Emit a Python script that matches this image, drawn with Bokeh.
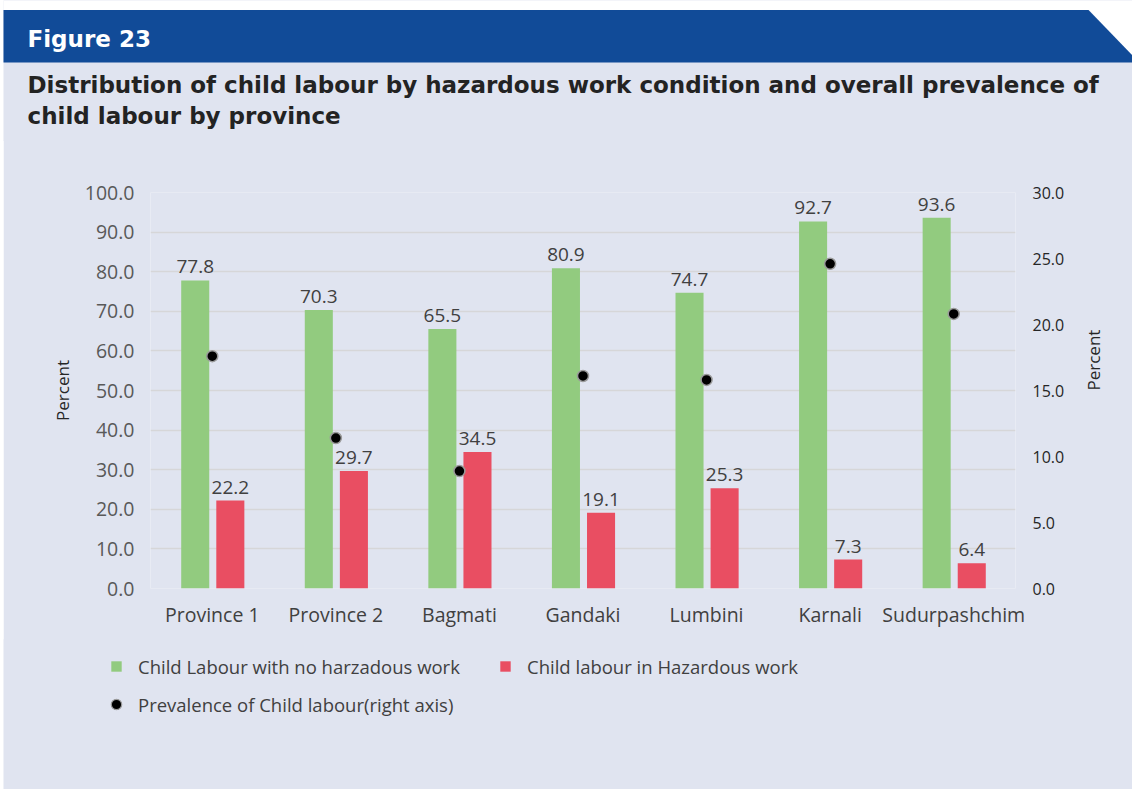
import math
from bokeh.plotting import figure
from bokeh.layouts import column
from bokeh.models import (ColumnDataSource, FactorRange, Range1d, LinearAxis, FixedTicker,
                          PrintfTickFormatter, LabelSet, Legend, LegendItem)
from bokeh.transform import dodge
from bokeh.core.properties import value
from bokeh.embed import file_html
from bokeh.resources import INLINE

# ---- data ----
categories = ["Province 1", "Province 2", "Bagmati", "Gandaki", "Lumbini", "Karnali", "Sudurpashchim"]
no_hazard = [77.8, 70.3, 65.5, 80.9, 74.7, 92.7, 93.6]
hazard = [22.2, 29.7, 34.5, 19.1, 25.3, 7.3, 6.4]
prevalence = [17.6, 11.4, 8.9, 16.1, 15.8, 24.6, 20.8]
left_ticks = [0, 10, 20, 30, 40, 50, 60, 70, 80, 90, 100]
right_ticks = [0, 5, 10, 15, 20, 25, 30]
series_names = ["Child Labour with no harzadous work", "Child labour in Hazardous work",
                "Prevalence of Child labour(right axis)"]
fig_label = "Figure 23"
title_lines = ["Distribution of child labour by hazardous work condition and overall prevalence of",
               "child labour by province"]

GREEN = "#92CB7F"
RED = "#E94E62"
BG = "#E0E4F0"
BLUE = "#114B98"
FONT = "Open Sans"
TFONT = "DejaVu Sans"
X0 = 3            # white strip on the left of the panel
W = 1132 - X0


def no_align(fig):
    try:
        fig.frame_align = False
    except Exception:
        pass


def zero_border(fig):
    fig.min_border_left = fig.min_border_right = 0
    fig.min_border_top = fig.min_border_bottom = 0


# ---------------- header ----------------
HH = 141
hdr = figure(width=W, height=HH, x_range=Range1d(X0, 1132), y_range=Range1d(HH, 0),
             x_axis_type=None, y_axis_type=None, output_backend="svg", toolbar_location=None)
zero_border(hdr)
no_align(hdr)
hdr.background_fill_color = BG
hdr.border_fill_color = BG
hdr.outline_line_color = None
hdr.quad(left=[0], right=[1132], top=[0], bottom=[9.5], fill_color="white", line_color=None)
hdr.patch(x=[1088, 1132, 1132], y=[9, 9, 55], fill_color="white", line_color=None)
hdr.patch(x=[0, 1088, 1132, 1132, 0], y=[9.5, 9.5, 55, 62, 62], fill_color=BLUE, line_color=None)
hdr.text(x=[27], y=[38], text=[fig_label], text_baseline="middle", text_font=value(TFONT),
         text_font_size="23px", text_font_style="bold", text_color="white")
hdr.text(x=[27, 27], y=[84, 115], text=title_lines, text_baseline="middle", text_font=value(TFONT),
         text_font_size="23px", text_font_style="bold", text_color="#232323")

# ---------------- main chart ----------------
src = ColumnDataSource(dict(
    cat=categories, nh=no_hazard, hz=hazard, pv=prevalence,
    nh_t=[f"{v:.1f}" for v in no_hazard], hz_t=[f"{v:.1f}" for v in hazard],
))

p = figure(width=W, height=500, x_range=FactorRange(factors=categories, range_padding=0),
           y_range=Range1d(0, 100), output_backend="svg", toolbar_location=None,
           min_border_left=150 - X0, min_border_right=117, min_border_top=52, min_border_bottom=52)
no_align(p)
p.background_fill_color = BG
p.border_fill_color = BG
p.outline_line_color = None
p.xgrid.grid_line_color = None
p.ygrid.grid_line_color = "#D6D6D8"
p.ygrid.grid_line_width = 1.5
p.ygrid.ticker = FixedTicker(ticks=left_ticks)

p.extra_y_ranges = {"right": Range1d(0, 30)}

g_off, r_off, bw = -0.138, 0.146, 0.227
p.vbar(x=dodge("cat", g_off, range=p.x_range), top="nh", width=bw, source=src,
       fill_color=GREEN, line_color=None)
p.vbar(x=dodge("cat", r_off, range=p.x_range), top="hz", width=bw, source=src,
       fill_color=RED, line_color=None)
p.scatter(x="cat", y="pv", y_range_name="right", source=src, size=11,
          fill_color="black", line_color="#9A9A9A", line_width=1.5)

for off, col, txt in [(g_off, "nh", "nh_t"), (r_off, "hz", "hz_t")]:
    p.add_layout(LabelSet(x=dodge("cat", off, range=p.x_range), y=col, text=txt, source=src,
                          y_offset=7, text_align="center", text_baseline="alphabetic",
                          text_font_size="19px", text_color="#404040", text_font=value(FONT)))

xa = p.xaxis[0]
xa.axis_line_color = None
xa.major_tick_line_color = None
xa.minor_tick_line_color = None
xa.major_label_standoff = 6
xa.major_label_text_font_size = "19.5px"
xa.major_label_text_color = "#404040"
xa.major_label_text_font = FONT

ya = p.yaxis[0]
ya.ticker = FixedTicker(ticks=left_ticks)
ya.formatter = PrintfTickFormatter(format="%.1f")
ya.axis_line_color = None
ya.major_tick_line_color = None
ya.minor_tick_line_color = None
ya.major_label_standoff = 10
ya.major_label_text_font_size = "19.5px"
ya.major_label_text_color = "#595959"
ya.major_label_text_font = FONT
ya.axis_label = "Percent"
ya.axis_label_text_font_size = "17px"
ya.axis_label_text_font_style = "normal"
ya.axis_label_text_color = "#262626"
ya.axis_label_text_font = FONT
ya.axis_label_standoff = 8

ra = LinearAxis(y_range_name="right", ticker=FixedTicker(ticks=right_ticks),
                formatter=PrintfTickFormatter(format="%.1f"), axis_label="Percent")
ra.axis_line_color = None
ra.major_tick_line_color = None
ra.minor_tick_line_color = None
ra.major_label_standoff = 11
ra.major_label_text_font_size = "16px"
ra.major_label_text_color = "#262626"
ra.major_label_text_font = FONT
ra.axis_label_text_font_size = "17px"
ra.axis_label_text_font_style = "normal"
ra.axis_label_text_color = "#262626"
ra.axis_label_text_font = FONT
ra.axis_label_standoff = 26
try:
    ra.axis_label_orientation = math.pi / 2
except Exception:
    pass
p.add_layout(ra, "right")

# ---------------- legend ----------------
LH = 150
lg = figure(width=W, height=LH, x_range=Range1d(0, 1), y_range=Range1d(0, 1),
            x_axis_type=None, y_axis_type=None, output_backend="svg", toolbar_location=None)
zero_border(lg)
no_align(lg)
lg.background_fill_color = BG
lg.border_fill_color = BG
lg.outline_line_color = None
# legend-only renderers, their single point lies outside the visible range
lg1 = lg.scatter(x=[-5], y=[-5], marker="square", size=10, fill_color=GREEN, line_color=None)
lg2 = lg.scatter(x=[-5], y=[-5], marker="square", size=10, fill_color=RED, line_color=None)
lg3 = lg.scatter(x=[-5], y=[-5], marker="circle", size=10, fill_color="black",
                 line_color="#9A9A9A", line_width=1.2)
legend = Legend(items=[LegendItem(label=series_names[0], renderers=[lg1]),
                       LegendItem(label=series_names[1], renderers=[lg2]),
                       LegendItem(label=series_names[2], renderers=[lg3])],
                orientation="horizontal", ncols=2, location=(103 - X0, LH - 78),
                glyph_width=26, glyph_height=26, label_height=26, label_standoff=9,
                spacing=12, label_width=342, padding=0, margin=0,
                border_line_color=None, background_fill_alpha=0,
                label_text_font_size="18.5px", label_text_color="#404040", label_text_font=FONT)
lg.add_layout(legend, "center")

# overlap neighbouring canvases by 1px to hide seams
p.styles = {"margin-top": "-1px"}
lg.styles = {"margin-top": "-1px"}

layout = column(hdr, p, lg, spacing=0, styles={"margin-left": f"{X0}px"})
open("out.html", "w").write(file_html(layout, INLINE))
